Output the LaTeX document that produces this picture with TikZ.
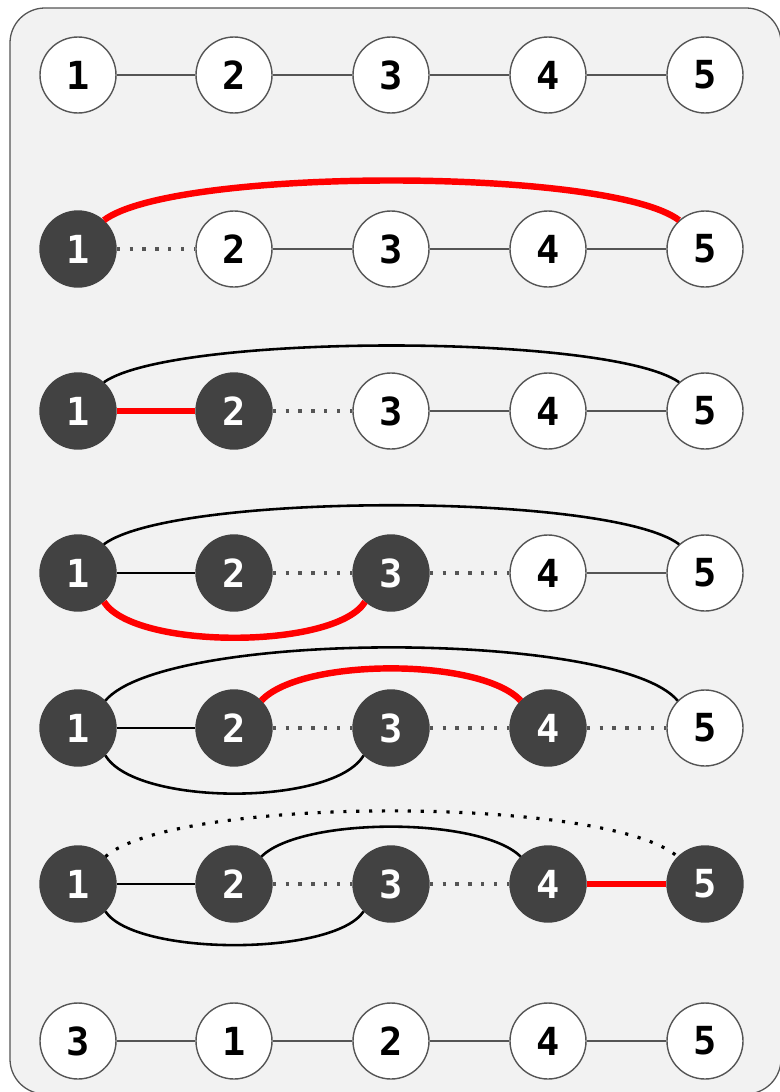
\documentclass[tikz,border=0pt]{standalone}
\usepackage{fontspec}
\newfontfamily\digitfont{DejaVu Sans Mono}
\definecolor{bgfill}{HTML}{F2F2F2}
\definecolor{framegray}{HTML}{555555}
\definecolor{edgegray}{HTML}{555555}
\definecolor{darknode}{HTML}{424242}
\definecolor{hotred}{HTML}{FF0000}
\begin{document}
\begin{tikzpicture}[x=0.03cm,y=-0.03cm,
  vtx/.style={circle, minimum size=2.28cm, inner sep=0pt,
    font=\digitfont\bfseries\fontsize{33}{33}\selectfont},
  wnode/.style={vtx, fill=white, draw=edgegray, line width=1.2pt, text=black},
  dnode/.style={vtx, fill=darknode, draw=darknode, line width=1.2pt, text=white},
  gedge/.style={draw=edgegray, line width=1.9pt},
  bedge/.style={draw=black, line width=2.2pt},
  redge/.style={draw=hotred, line width=5.5pt},
  gdots/.style={draw=edgegray, line width=2.7pt, dash pattern=on 2.7pt off 8.3pt},
  bdots/.style={draw=black, line width=2.7pt, dash pattern=on 2.7pt off 8.3pt}]
\useasboundingbox (0,0) rectangle (779,1092);
\draw[fill=bgfill, draw=framegray, line width=1.1pt, rounded corners=1.05cm] (10,8) rectangle (781,1094);

% Row 1
\node[wnode] (a1) at (78,75) {1};
\node[wnode] (a2) at (234,75) {2};
\node[wnode] (a3) at (391,75) {3};
\node[wnode] (a4) at (548,75) {4};
\node[wnode] (a5) at (705,75) {5};
\draw[gedge] (a1) -- (a2);
\draw[gedge] (a2) -- (a3);
\draw[gedge] (a3) -- (a4);
\draw[gedge] (a4) -- (a5);

% Row 2
\node[dnode] (b1) at (78,249) {1};
\node[wnode] (b2) at (234,249) {2};
\node[wnode] (b3) at (391,249) {3};
\node[wnode] (b4) at (548,249) {4};
\node[wnode] (b5) at (705,249) {5};
\draw[gdots] (b1) -- (b2);
\draw[gedge] (b2) -- (b3);
\draw[gedge] (b3) -- (b4);
\draw[gedge] (b4) -- (b5);
\draw[redge] (b1.48) .. controls +(70,-53) and +(-70,-53) .. (b5.132);

% Row 3
\node[dnode] (c1) at (78,411) {1};
\node[dnode] (c2) at (234,411) {2};
\node[wnode] (c3) at (391,411) {3};
\node[wnode] (c4) at (548,411) {4};
\node[wnode] (c5) at (705,411) {5};
\draw[redge] (c1) -- (c2);
\draw[gdots] (c2) -- (c3);
\draw[gedge] (c3) -- (c4);
\draw[gedge] (c4) -- (c5);
\draw[bedge] (c1.48) .. controls +(70,-49) and +(-70,-49) .. (c5.132);

% Row 4
\node[dnode] (d1) at (78,573) {1};
\node[dnode] (d2) at (234,573) {2};
\node[dnode] (d3) at (391,573) {3};
\node[wnode] (d4) at (548,573) {4};
\node[wnode] (d5) at (705,573) {5};
\draw[bedge] (d1) -- (d2);
\draw[gdots] (d2) -- (d3);
\draw[gdots] (d3) -- (d4);
\draw[gedge] (d4) -- (d5);
\draw[bedge] (d1.48) .. controls +(70,-52) and +(-70,-52) .. (d5.132);
\draw[redge] (d1.-48) .. controls +(30,48) and +(-30,48) .. (d3.-132);

% Row 5
\node[dnode] (e1) at (78,728) {1};
\node[dnode] (e2) at (234,728) {2};
\node[dnode] (e3) at (391,728) {3};
\node[dnode] (e4) at (548,728) {4};
\node[wnode] (e5) at (705,728) {5};
\draw[bedge] (e1) -- (e2);
\draw[gdots] (e2) -- (e3);
\draw[gdots] (e3) -- (e4);
\draw[gdots] (e4) -- (e5);
\draw[bedge] (e1.45) .. controls +(60,-71) and +(-60,-71) .. (e5.135);
\draw[redge] (e2.45) .. controls +(40,-43) and +(-40,-43) .. (e4.135);
\draw[bedge] (e1.-45) .. controls +(30,51) and +(-30,51) .. (e3.-135);

% Row 6
\node[dnode] (f1) at (78,884) {1};
\node[dnode] (f2) at (234,884) {2};
\node[dnode] (f3) at (391,884) {3};
\node[dnode] (f4) at (548,884) {4};
\node[dnode] (f5) at (705,884) {5};
\draw[bedge] (f1) -- (f2);
\draw[gdots] (f2) -- (f3);
\draw[gdots] (f3) -- (f4);
\draw[redge] (f4) -- (f5);
\draw[bdots] (f1.45) .. controls +(70,-61) and +(-70,-61) .. (f5.135);
\draw[bedge] (f2.45) .. controls +(40,-40) and +(-40,-40) .. (f4.135);
\draw[bedge] (f1.-45) .. controls +(30,45) and +(-30,45) .. (f3.-135);

% Row 7
\node[wnode] (g1) at (78,1041) {3};
\node[wnode] (g2) at (234,1041) {1};
\node[wnode] (g3) at (391,1041) {2};
\node[wnode] (g4) at (548,1041) {4};
\node[wnode] (g5) at (705,1041) {5};
\draw[gedge] (g1) -- (g2);
\draw[gedge] (g2) -- (g3);
\draw[gedge] (g3) -- (g4);
\draw[gedge] (g4) -- (g5);
\end{tikzpicture}
\end{document}
